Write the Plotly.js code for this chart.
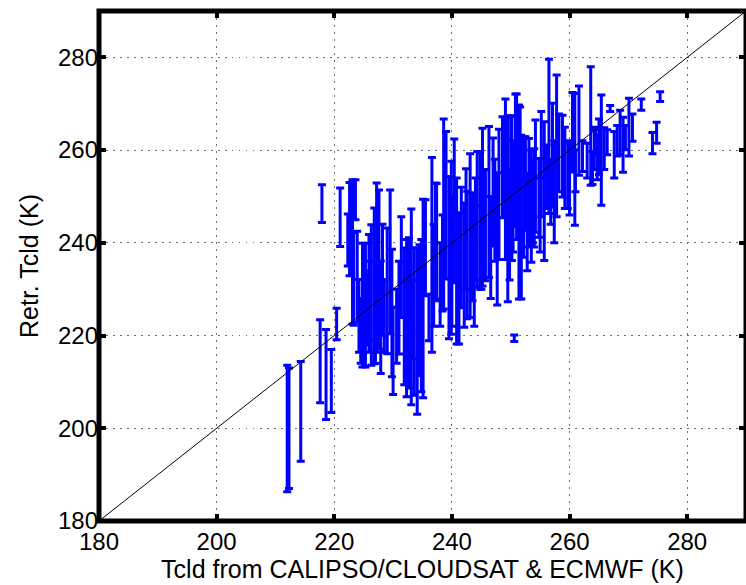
<!DOCTYPE html>
<html>
<head>
<meta charset="utf-8">
<script src="https://cdn.plot.ly/plotly-3.0.1.min.js"></script>
<style>html,body{margin:0;padding:0;background:#fff;}#chart{width:746px;height:585px;}</style>
</head>
<body>
<div id="chart"></div>
<script>
// Reference temperature (x) and retrieved-Tcld error-bar top / bottom (K)
const tRef = [212.0,212.3,214.3,217.6,217.9,218.6,219.5,220.4,221.0,222.3,222.6,223.1,223.3,223.6,223.9,224.2,224.5,224.8,225.3,225.6,225.9,226.0,226.3,226.8,227.0,227.2,227.6,227.9,228.2,228.5,229.0,229.5,229.8,230.0,230.6,231.0,231.4,231.9,232.3,232.7,233.1,233.4,233.6,234.1,234.5,234.8,235.1,235.5,236.1,236.6,236.9,237.2,237.4,238.0,238.4,238.6,239.0,239.5,239.9,240.0,240.4,240.8,241.2,241.6,242.1,242.4,242.6,243.1,243.5,243.8,244.0,244.3,244.8,245.0,245.2,245.7,246.3,246.6,247.0,247.3,247.7,248.0,248.6,249.1,249.5,249.8,250.0,250.2,250.4,250.6,250.8,251.0,251.4,251.6,251.8,252.2,252.5,252.8,253.1,253.5,253.8,254.0,254.2,254.8,255.0,255.2,255.7,256.1,256.5,256.8,257.1,257.4,257.8,258.2,258.8,259.2,259.7,260.0,260.5,260.9,261.0,261.6,262.2,263.0,263.6,263.9,264.2,264.4,264.7,265.0,265.4,265.9,266.4,266.9,267.6,268.1,268.6,269.1,269.5,270.1,270.7,272.2,274.1,274.8,275.4];
const retrTop = [213.6,213.0,214.4,223.4,252.5,221.3,217.0,225.9,251.8,246.2,253.0,253.6,242.2,253.6,242.5,232.1,228.0,239.9,239.9,234.0,241.8,236.0,243.9,247.5,240.0,252.9,251.4,236.1,244.0,232.1,243.2,251.4,238.6,226.1,230.0,236.0,245.6,238.9,240.7,241.1,247.3,232.0,238.9,238.9,239.6,240.7,249.4,249.3,228.9,258.4,244.0,252.9,252.8,240.0,246.0,266.7,264.0,254.3,257.6,250.0,262.4,254.0,246.5,252.0,248.6,256.0,251.1,259.2,250.8,242.0,254.0,259.7,259.5,248.0,264.7,255.8,265.1,250.0,262.6,258.0,255.1,264.5,267.2,271.0,267.4,256.0,267.4,267.3,262.0,220.1,272.1,272.1,269.7,269.3,263.2,262.9,262.9,255.0,262.5,260.0,258.0,260.3,266.5,258.2,254.0,268.3,266.1,261.1,279.6,258.0,270.1,262.0,276.2,267.8,267.5,264.9,261.4,262.0,272.4,272.2,260.0,273.8,262.0,261.5,278.0,259.7,264.4,264.9,263.3,266.7,271.9,264.8,264.4,269.6,264.0,265.3,268.6,267.1,265.3,271.2,267.8,271.0,263.8,266.0,272.6];
const retrBottom = [186.3,187.0,192.9,205.5,244.4,201.9,203.4,219.1,239.2,235.0,232.9,222.5,222.2,245.0,222.9,216.4,214.0,213.2,213.2,218.0,216.4,219.0,213.6,213.9,214.0,216.4,217.1,211.8,220.0,216.4,216.1,220.4,211.1,207.3,214.0,216.0,223.9,209.4,206.8,208.7,205.1,215.0,207.1,203.0,211.4,207.9,206.6,228.6,218.9,216.4,222.0,227.5,227.9,222.0,225.3,225.7,232.2,219.3,220.3,222.0,231.4,218.2,218.2,226.0,221.8,230.0,223.6,223.9,227.5,222.0,232.0,230.4,230.0,230.0,230.7,231.8,232.5,228.0,239.3,236.0,226.6,236.4,245.4,236.4,227.3,232.0,244.0,236.2,238.0,218.7,243.6,240.7,227.9,241.2,227.9,236.9,242.7,234.0,239.1,235.8,240.0,239.1,242.3,241.2,238.0,245.6,236.2,247.4,246.3,244.0,247.7,240.0,245.6,251.0,249.9,247.4,247.4,246.0,255.3,243.8,251.0,254.6,255.4,254.0,252.4,252.6,255.8,258.9,253.6,254.7,248.1,255.8,259.0,268.3,254.0,258.7,259.0,255.2,260.1,258.7,261.9,268.6,259.2,261.5,270.5];
const oneToOne = [180, 290];
const xTicks = [180, 200, 220, 240, 260, 280];
const yTicks = [180, 200, 220, 240, 260, 280];

const yMid = retrTop.map((t, i) => (t + retrBottom[i]) / 2);
const yErr = retrTop.map((t, i) => (t - retrBottom[i]) / 2);

const bars = {
  type: 'scatter', mode: 'markers',
  x: tRef, y: yMid,
  marker: {size: 1, opacity: 0, color: '#0000ff'},
  error_y: {type: 'data', array: yErr, symmetric: true, color: '#0000ff', thickness: 3, width: 4},
  hoverinfo: 'skip', showlegend: false
};
const diag = {
  type: 'scatter', mode: 'lines', x: oneToOne, y: oneToOne,
  line: {color: '#000', width: 1}, showlegend: false, hoverinfo: 'skip'
};

const fontFam = '"Liberation Sans", Arial, Helvetica, sans-serif';
const axisCommon = {
  range: [180, 290], autorange: false,
  showgrid: true, gridcolor: '#6e6e6e', gridwidth: 1, griddash: '1.5px,5.5px',
  zeroline: false,
  showline: false, mirror: 'ticks',
  ticks: 'inside', ticklen: 7, tickwidth: 4, tickcolor: '#000',
  tickfont: {family: fontFam, size: 24, color: '#000'},
  tickmode: 'array'
};

const layout = {
  width: 746, height: 585,
  margin: {l: 99, r: 0, t: 11, b: 64},
  paper_bgcolor: '#fff', plot_bgcolor: '#fff',
  font: {family: fontFam, color: '#000'},
  showlegend: false,
  xaxis: Object.assign({}, axisCommon, {
    tickvals: xTicks, ticktext: xTicks.map(String), ticklabelstandoff: 4,
    title: {text: 'Tcld from CALIPSO/CLOUDSAT &amp; ECMWF (K)', font: {family: fontFam, size: 25, color: '#000'}, standoff: 0}
  }),
  yaxis: Object.assign({}, axisCommon, {
    tickvals: yTicks, ticktext: yTicks.map(String),
    title: {text: 'Retr. Tcld (K)', font: {family: fontFam, size: 25, color: '#000'}, standoff: 12}
  }),
  shapes: [{
    type: 'rect', xref: 'paper', yref: 'paper', x0: 0, x1: 1, y0: 0, y1: 1,
    line: {color: '#000', width: 5}, fillcolor: 'rgba(0,0,0,0)', layer: 'above'
  }]
};

Plotly.newPlot('chart', [bars, diag], layout, {staticPlot: true, displayModeBar: false});
</script>
</body>
</html>
